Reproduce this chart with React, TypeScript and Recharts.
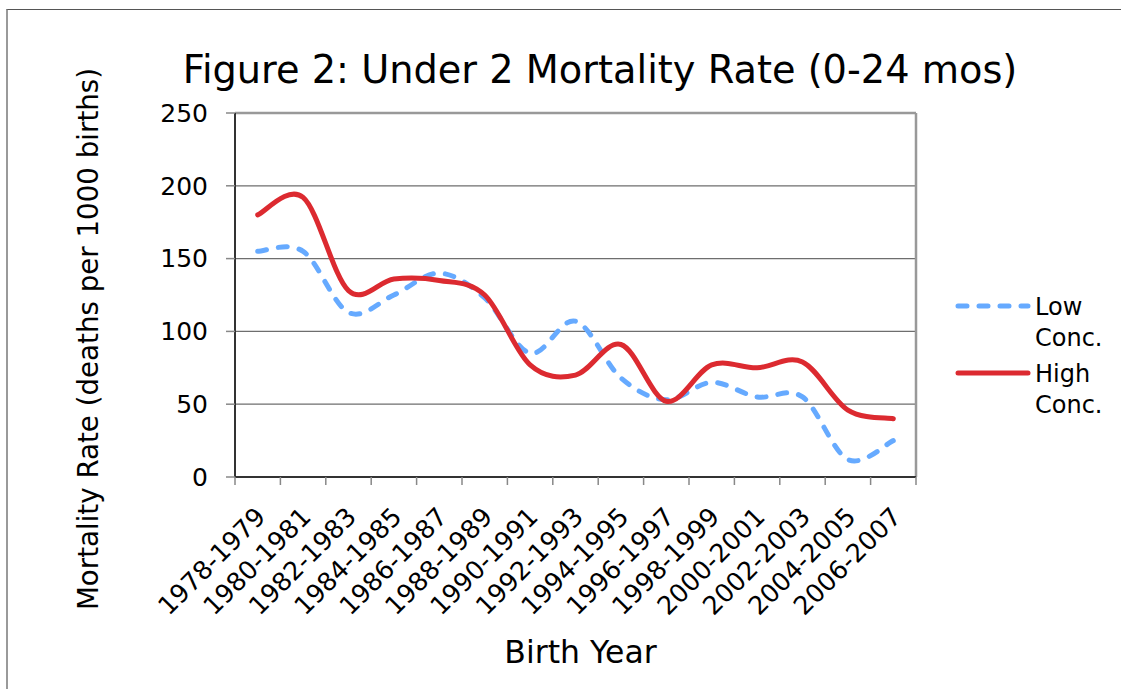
import {
  LineChart,
  Line,
  XAxis,
  YAxis,
  CartesianGrid,
  ReferenceLine,
  Legend,
  Label,
} from "recharts";

const categories = [
  "1978-1979",
  "1980-1981",
  "1982-1983",
  "1984-1985",
  "1986-1987",
  "1988-1989",
  "1990-1991",
  "1992-1993",
  "1994-1995",
  "1996-1997",
  "1998-1999",
  "2000-2001",
  "2002-2003",
  "2004-2005",
  "2006-2007",
];
const lowConc = [155, 155, 113, 125, 140, 123, 85, 107, 68, 53, 65, 55, 55, 12, 25];
const highConc = [180, 192, 128, 136, 135, 125, 77, 70, 91, 52, 77, 75, 79, 46, 40];
const yTicks = [0, 50, 100, 150, 200, 250];

// x sits in the middle of each category band, like Excel does
const data = categories.map((year, i) => ({
  x: i + 0.5,
  year,
  low: lowConc[i],
  high: highConc[i],
}));
const bandEdges = [...categories.map((_, i) => i), categories.length];
const bandMids = categories.map((_, i) => i + 0.5);

const FONT = "'DejaVu Sans', Verdana, sans-serif";
const BLUE = "#66AAFF";
const RED = "#DC2A30";

// Excel-ish smoothed line (Catmull-Rom as cubic bezier)
function excelSmooth(context: any) {
  let pts: number[][] = [];
  return {
    areaStart() {},
    areaEnd() {},
    lineStart() {
      pts = [];
    },
    point(x: number, y: number) {
      pts.push([+x, +y]);
    },
    lineEnd() {
      const n = pts.length;
      if (!n) return;
      context.moveTo(pts[0][0], pts[0][1]);
      for (let i = 0; i < n - 1; i++) {
        const a = pts[Math.max(i - 1, 0)];
        const b = pts[i];
        const c = pts[i + 1];
        const d = pts[Math.min(i + 2, n - 1)];
        context.bezierCurveTo(
          b[0] + (c[0] - a[0]) / 6,
          b[1] + (c[1] - a[1]) / 6,
          c[0] - (d[0] - b[0]) / 6,
          c[1] - (d[1] - b[1]) / 6,
          c[0],
          c[1]
        );
      }
    },
  };
}

const YearTick = ({ x, y, payload }: any) => {
  const ax = x + 3;
  return (
    <text
      x={ax}
      y={y}
      dy="0.35em"
      textAnchor="end"
      transform={`rotate(-45 ${ax} ${y})`}
      fontSize={25.5}
      fontFamily={FONT}
      fill="#000"
    >
      {categories[Math.floor(payload.value)]}
    </text>
  );
};

const legendItems = [
  { name: "Low Conc.", color: BLUE, dashed: true },
  { name: "High Conc.", color: RED, dashed: false },
];

const LegendBox = () => (
  <div style={{ fontFamily: FONT, fontSize: 24, lineHeight: "31px", color: "#000" }}>
    {legendItems.map((it) => (
      <div key={it.name} style={{ display: "flex", marginBottom: 5 }}>
        <svg width={82} height={28} style={{ flex: "none" }}>
          <line
            x1={5}
            y1={14}
            x2={75}
            y2={14}
            stroke={it.color}
            strokeWidth={5}
            strokeLinecap="round"
            strokeDasharray={it.dashed ? "9 12" : undefined}
          />
        </svg>
        <div style={{ width: 80 }}>{it.name}</div>
      </div>
    ))}
  </div>
);

export default function App() {
  return (
    <div
      style={{
        position: "absolute",
        left: 0,
        top: 0,
        width: 1121,
        height: 689,
        background: "#fff",
        overflow: "hidden",
        fontFamily: FONT,
      }}
    >
      <div
        style={{
          position: "absolute",
          left: 6,
          top: 9,
          width: 1130,
          height: 690,
          borderLeft: "2px solid #9a9a9a",
          borderTop: "1px solid #555",
          boxSizing: "border-box",
        }}
      />
      <div
        style={{
          position: "absolute",
          left: 0,
          width: 1200,
          top: 51,
          textAlign: "center",
          fontSize: 38.3,
          lineHeight: "38px",
          color: "#000",
          whiteSpace: "nowrap",
        }}
      >
        Figure 2: Under 2 Mortality Rate (0-24 mos)
      </div>
      <LineChart
        width={1121}
        height={689}
        data={data}
        margin={{ top: 113, right: 205, bottom: 52, left: 135 }}
        style={{ position: "absolute", left: 0, top: 0 }}
      >
        <CartesianGrid vertical={false} stroke="#6e6e6e" strokeWidth={1.3} />
        <XAxis
          dataKey="x"
          type="number"
          domain={[0, categories.length]}
          ticks={bandEdges}
          interval={0}
          height={10}
          tickSize={8}
          tick={() => <g />}
          tickLine={{ stroke: "#888", strokeWidth: 1.5 }}
          axisLine={{ stroke: "#333", strokeWidth: 2 }}
        />
        <XAxis
          xAxisId="labels"
          dataKey="x"
          type="number"
          domain={[0, categories.length]}
          ticks={bandMids}
          interval={0}
          height={150}
          tickSize={0}
          tickMargin={25}
          tickLine={false}
          axisLine={false}
          tick={<YearTick />}
        >
          <Label
            content={({ viewBox }: any) => (
              <text
                x={viewBox.x + viewBox.width / 2 + 5}
                y={663}
                textAnchor="middle"
                fontSize={31.5}
                fontFamily={FONT}
                fill="#000"
              >
                Birth Year
              </text>
            )}
          />
        </XAxis>
        <YAxis
          domain={[0, 250]}
          ticks={yTicks}
          interval={0}
          width={100}
          tickSize={9}
          tickMargin={18}
          tick={{ fontSize: 25, fill: "#000", fontFamily: FONT }}
          tickLine={{ stroke: "#888", strokeWidth: 1.5 }}
          axisLine={{ stroke: "#333", strokeWidth: 2 }}
        >
          <Label
            content={({ viewBox }: any) => {
              const cx = viewBox.x - 47;
              const cy = viewBox.y + viewBox.height / 2 + 44;
              return (
                <text
                  x={cx}
                  y={cy}
                  dy="0.35em"
                  textAnchor="middle"
                  transform={`rotate(-90 ${cx} ${cy})`}
                  fontSize={27.7}
                  fontFamily={FONT}
                  fill="#000"
                >
                  Mortality Rate (deaths per 1000 births)
                </text>
              );
            }}
          />
        </YAxis>
        <ReferenceLine y={250} stroke="#999" strokeWidth={2.5} />
        <ReferenceLine x={categories.length} stroke="#999" strokeWidth={2.5} />
        <Line
          dataKey="low"
          name="Low Conc."
          type={excelSmooth as any}
          stroke={BLUE}
          strokeWidth={5}
          strokeDasharray="9 12"
          strokeLinecap="round"
          dot={false}
          activeDot={false}
          isAnimationActive={false}
        />
        <Line
          dataKey="high"
          name="High Conc."
          type={excelSmooth as any}
          stroke={RED}
          strokeWidth={5}
          strokeLinecap="round"
          dot={false}
          activeDot={false}
          isAnimationActive={false}
        />
        <Legend
          layout="vertical"
          align="center"
          verticalAlign="middle"
          content={<LegendBox />}
          wrapperStyle={{ left: 953, top: 292, width: 170 }}
        />
      </LineChart>
    </div>
  );
}
